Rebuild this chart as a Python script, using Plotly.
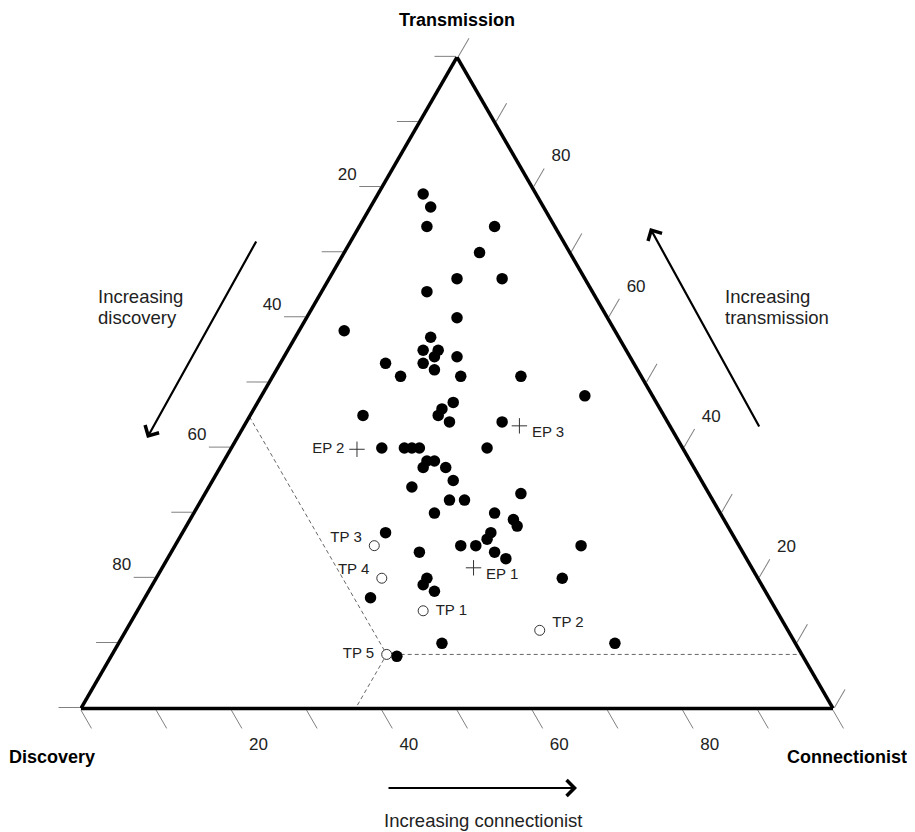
import plotly.graph_objects as go

# ---- data (percent shares) ----
transmission = [79, 77, 74, 74, 70, 66, 66, 64, 60, 58, 57, 55, 55, 54, 53, 54, 53, 52, 51, 51,
                51, 48, 47, 46, 45, 45, 44, 44, 40, 40, 40, 40, 40, 38, 38, 37, 37, 35, 34, 32,
                32, 33, 30, 30, 29, 28, 27, 27, 26, 25, 25, 25, 24, 24, 23, 20, 20, 19, 18, 17,
                10, 8, 10]
discovery = [15, 15, 17, 8, 12, 17, 11, 22, 20, 36, 25, 27, 25, 26, 28, 23, 33, 27, 32, 24,
             16, 9, 27, 29, 30, 40, 29, 22, 40, 37, 36, 35, 26, 35, 34, 36, 33, 33, 39, 35,
             33, 25, 38, 30, 28, 28, 46, 32, 33, 35, 37, 21, 43, 33, 32, 26, 44, 45, 44, 53,
             47, 54, 24]
connectionist = [6, 8, 9, 18, 18, 17, 23, 14, 20, 6, 18, 18, 20, 20, 19, 23, 14, 21, 17, 25,
                 33, 43, 26, 25, 25, 15, 27, 34, 20, 23, 24, 25, 34, 27, 28, 27, 30, 32, 27, 33,
                 35, 42, 32, 40, 43, 44, 27, 41, 41, 40, 38, 54, 33, 43, 45, 54, 36, 36, 38, 30,
                 43, 38, 66]

tp_labels = ["TP 1", "TP 2", "TP 3", "TP 4", "TP 5"]
tp_transmission = [15, 12, 25, 20, 8.3]
tp_discovery = [47, 33, 48.5, 50, 55.2]
tp_connectionist = [38, 55, 26.5, 30, 36.5]
tp_textpos = ["middle right", "top right", "top left", "top left", "middle left"]

ep_labels = ["EP 1", "EP 2", "EP 3"]
ep_transmission = [21.6, 39.8, 43.4]
ep_discovery = [37, 43.4, 20]
ep_connectionist = [41.4, 16.8, 36.6]
ep_textpos = ["bottom right", "middle left", "bottom right"]

tick_values = [0, 10, 20, 30, 40, 50, 60, 70, 80, 90, 100]
tick_labels = ["", "", "80", "", "60", "", "40", "", "20", "", ""]

FONT = "Arial, Liberation Sans, sans-serif"
NB = "\u00a0"

def pad_label(text, pos, n):
    # keep point labels a little away from their symbols
    if "right" in pos:
        return NB * n + text
    if "left" in pos:
        return text + NB * n
    return text

fig = go.Figure()

# reference lines through TP 5 to the three edges
a5, b5, c5 = tp_transmission[4], tp_discovery[4], tp_connectionist[4]
fig.add_trace(go.Scatterternary(
    a=[100 - b5, a5, 0, None, a5, a5],
    b=[b5, b5, 100 - c5, None, b5, 0],
    c=[0, c5, c5, None, c5, 100 - a5],
    mode="lines", line=dict(color="#666666", width=1, dash="4px,3px"),
    hoverinfo="skip", connectgaps=False))

fig.add_trace(go.Scatterternary(
    a=transmission, b=discovery, c=connectionist, mode="markers",
    marker=dict(size=11.5, color="black", line=dict(width=0))))

fig.add_trace(go.Scatterternary(
    a=tp_transmission, b=tp_discovery, c=tp_connectionist, mode="markers",
    marker=dict(size=10, color="white", line=dict(width=1, color="#333"))))

fig.add_trace(go.Scatterternary(
    a=ep_transmission, b=ep_discovery, c=ep_connectionist, mode="markers",
    marker=dict(symbol="cross-thin", size=11, color="#333", line=dict(width=1, color="#333"))))

# point labels
fig.add_trace(go.Scatterternary(
    a=tp_transmission, b=tp_discovery, c=tp_connectionist, mode="text",
    text=[pad_label(t, p, 3) for t, p in zip(tp_labels, tp_textpos)],
    textposition=tp_textpos,
    textfont=dict(family=FONT, size=15, color="#222"), hoverinfo="skip"))
fig.add_trace(go.Scatterternary(
    a=ep_transmission, b=ep_discovery, c=ep_connectionist, mode="text",
    text=[pad_label(t, p, 3) for t, p in zip(ep_labels, ep_textpos)],
    textposition=ep_textpos,
    textfont=dict(family=FONT, size=15, color="#222"), hoverinfo="skip"))

axis_common = dict(
    tickmode="array", tickvals=tick_values,
    ticks="outside", ticklen=21, tickwidth=1, tickcolor="#808080",
    showgrid=False, showline=True, linecolor="black", linewidth=3.5,
    tickfont=dict(family=FONT, size=17, color="#222"), min=0,
    title=dict(text=""),
)
# labels sit slightly above / beyond the tick ends, as in the original
left_labels = [(t + "<br>" + NB) if t else "" for t in tick_labels]
bottom_labels = [(NB * 7 + t) if t else "" for t in tick_labels]
right_labels = [(NB + t + "<br>" + NB) if t else "" for t in tick_labels]

OFF = 8  # page margin around the figure
W, H = 907, 824

def fx(x):
    return (x - OFF) / W

def fy(y):
    return 1 - (y - OFF) / H

fig.update_layout(
    width=W, height=H,
    margin=dict(l=0, r=0, t=0, b=0),
    paper_bgcolor="white", plot_bgcolor="white",
    showlegend=False,
    ternary=dict(
        sum=100, bgcolor="white",
        domain=dict(x=[fx(81), fx(833)], y=[fy(708.5), fy(57.2)]),
        aaxis=dict(ticktext=left_labels, **axis_common),
        baxis=dict(ticktext=bottom_labels, **axis_common),
        caxis=dict(ticktext=right_labels, **axis_common),
    ),
)

arrow_style = dict(xref="paper", yref="paper", showarrow=True, arrowhead=4, arrowsize=1.4,
                   arrowwidth=2.2, arrowcolor="black", text="")
annotations = [
    dict(x=fx(147), y=fy(438), ax=110, ay=-198, **arrow_style),
    dict(x=fx(650), y=fy(228), ax=110, ay=200, **arrow_style),
    dict(x=fx(577), y=fy(788), ax=-190, ay=0, **arrow_style),
]

text_style = dict(xref="paper", yref="paper", showarrow=False, yanchor="middle")
body_font = dict(family=FONT, size=18.5, color="#222")
title_font = dict(family=FONT, size=18, color="black")
for (tx, ty, t, anc) in [(96, 296, "Increasing", "left"), (96, 317, "discovery", "left"),
                         (723, 296, "Increasing", "left"), (723, 317, "transmission", "left"),
                         (483, 820, "Increasing connectionist", "center")]:
    annotations.append(dict(x=fx(tx), y=fy(ty), text=t, xanchor=anc, font=body_font, **text_style))
for (tx, ty, t) in [(457, 20, "<b>Transmission</b>"), (52, 757, "<b>Discovery</b>"),
                    (846.5, 757, "<b>Connectionist</b>")]:
    annotations.append(dict(x=fx(tx), y=fy(ty), text=t, xanchor="center", font=title_font,
                            **text_style))

fig.update_layout(annotations=annotations)

fig.write_html("out.html")
